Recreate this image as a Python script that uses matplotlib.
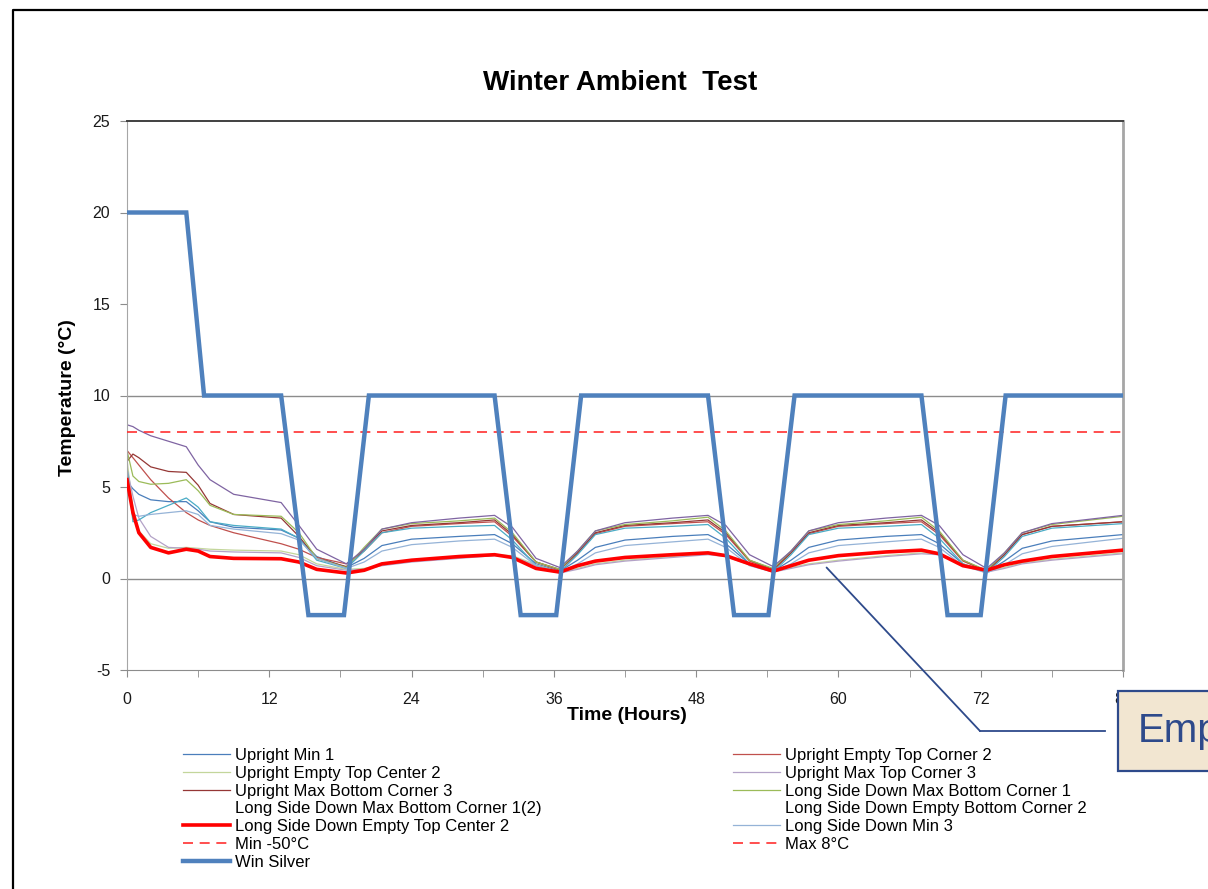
import matplotlib.pyplot as plt
from matplotlib.lines import Line2D
from matplotlib.patches import Rectangle, ConnectionPatch
from matplotlib.ticker import MultipleLocator

plt.rcParams['font.family'] = ['Liberation Sans', 'DejaVu Sans']
plt.rcParams['axes.unicode_minus'] = False

# -----------------------------
# Data (hours since start, temperature in deg C)
# -----------------------------
hours = [0, 0.5, 1, 2, 3.5, 5, 6, 7, 9, 13, 14.5, 16, 18.5, 20, 21.5, 24, 28, 31,
         32.5, 34.5, 36.5, 38, 39.5, 42, 46, 49, 50.5, 52.5, 54.5, 56, 57.5, 60,
         64, 67, 68.5, 70.5, 72.5, 74, 75.5, 78, 84]

upright_min_1 = [5.3, 4.9, 4.6, 4.3, 4.2, 4.2, 3.7, 3.1, 2.8, 2.65, 2.2, 1.2, 0.6, 1.1,
                 1.8, 2.15, 2.3, 2.4, 1.9, 0.8, 0.4, 1.0, 1.7, 2.1, 2.3, 2.4, 1.9, 0.8,
                 0.4, 1.0, 1.7, 2.1, 2.3, 2.4, 1.9, 0.8, 0.35, 0.95, 1.65, 2.05, 2.4]
upright_empty_top_corner_2 = [7.0, 6.6, 6.2, 5.4, 4.4, 3.6, 3.2, 2.9, 2.5, 1.9, 1.6, 1.15,
                              0.8, 1.5, 2.5, 2.85, 3.0, 3.1, 2.3, 0.9, 0.45, 1.4, 2.45,
                              2.85, 3.0, 3.1, 2.4, 0.95, 0.45, 1.4, 2.45, 2.85, 3.0, 3.1,
                              2.4, 0.95, 0.4, 1.3, 2.4, 2.85, 3.1]
upright_empty_top_center_2 = [6.5, 3.8, 2.6, 1.9, 1.65, 1.7, 1.65, 1.6, 1.55, 1.5, 1.3,
                              0.8, 0.5, 0.55, 0.75, 0.95, 1.15, 1.3, 1.25, 0.75, 0.35,
                              0.55, 0.8, 1.0, 1.2, 1.35, 1.25, 0.8, 0.4, 0.6, 0.8, 1.0,
                              1.25, 1.4, 1.35, 0.8, 0.4, 0.6, 0.85, 1.05, 1.4]
upright_max_top_corner_3 = [6.0, 4.5, 3.3, 2.3, 1.7, 1.65, 1.6, 1.5, 1.45, 1.4, 1.15,
                            0.7, 0.45, 0.5, 0.7, 0.9, 1.1, 1.25, 1.2, 0.7, 0.3, 0.5,
                            0.75, 0.95, 1.15, 1.3, 1.2, 0.75, 0.35, 0.55, 0.75, 0.95,
                            1.2, 1.35, 1.3, 0.75, 0.35, 0.55, 0.8, 1.0, 1.35]
upright_max_bottom_corner_3 = [6.4, 6.8, 6.6, 6.1, 5.85, 5.8, 5.1, 4.1, 3.5, 3.3, 2.3,
                               1.1, 0.65, 1.6, 2.6, 2.9, 3.05, 3.2, 2.4, 0.9, 0.5, 1.4,
                               2.5, 2.9, 3.05, 3.2, 2.5, 1.0, 0.5, 1.4, 2.5, 2.9, 3.05,
                               3.2, 2.5, 1.0, 0.4, 1.3, 2.4, 2.85, 3.1]
lsd_max_bottom_corner_1 = [7.0, 5.6, 5.3, 5.15, 5.2, 5.4, 4.8, 4.0, 3.5, 3.4, 2.5, 1.1,
                           0.6, 1.7, 2.7, 3.0, 3.15, 3.3, 2.5, 0.9, 0.5, 1.5, 2.6, 2.95,
                           3.15, 3.35, 2.6, 1.0, 0.55, 1.5, 2.6, 2.95, 3.15, 3.35, 2.6,
                           1.0, 0.45, 1.4, 2.5, 2.95, 3.4]
lsd_max_bottom_corner_1b = [8.4, 8.3, 8.1, 7.8, 7.5, 7.2, 6.2, 5.4, 4.6, 4.15, 2.9, 1.6,
                            0.8, 1.6, 2.7, 3.05, 3.3, 3.45, 2.8, 1.1, 0.6, 1.5, 2.6,
                            3.05, 3.3, 3.45, 2.9, 1.3, 0.65, 1.5, 2.6, 3.05, 3.3, 3.45,
                            2.9, 1.3, 0.55, 1.4, 2.5, 3.0, 3.45]
lsd_empty_bottom_corner_2 = [6.1, 3.1, 3.2, 3.6, 4.0, 4.4, 3.9, 3.1, 2.9, 2.7, 2.2, 1.0,
                             0.55, 1.5, 2.5, 2.75, 2.85, 2.9, 2.1, 0.7, 0.35, 1.3, 2.4,
                             2.75, 2.85, 2.95, 2.2, 0.8, 0.35, 1.3, 2.4, 2.75, 2.85,
                             2.95, 2.2, 0.8, 0.3, 1.2, 2.3, 2.75, 3.0]
lsd_empty_top_center_2 = [5.4, 3.6, 2.5, 1.7, 1.4, 1.6, 1.5, 1.2, 1.1, 1.08, 0.9, 0.5,
                          0.3, 0.45, 0.8, 1.0, 1.2, 1.3, 1.15, 0.55, 0.35, 0.7, 0.95,
                          1.15, 1.3, 1.4, 1.25, 0.8, 0.4, 0.7, 1.0, 1.25, 1.45, 1.55,
                          1.35, 0.7, 0.45, 0.75, 0.95, 1.2, 1.55]
lsd_min_3 = [5.6, 3.5, 3.4, 3.5, 3.6, 3.7, 3.5, 2.9, 2.7, 2.45, 2.1, 1.1, 0.55, 0.9, 1.5,
             1.85, 2.05, 2.15, 1.7, 0.7, 0.35, 0.8, 1.4, 1.8, 2.0, 2.15, 1.7, 0.7, 0.35,
             0.8, 1.4, 1.8, 2.0, 2.15, 1.7, 0.7, 0.3, 0.75, 1.35, 1.75, 2.2]

# chamber set point profile
silver_hours = [0, 5, 6.5, 13, 15.3, 18.3, 20.4, 31, 33.2, 36.2, 38.3, 49, 51.2, 54.1,
                56.3, 67, 69.2, 72, 74.1, 84]
silver_temp = [20, 20, 10, 10, -2, -2, 10, 10, -2, -2, 10, 10, -2, -2, 10, 10, -2, -2,
               10, 10]

min_limit = -50
max_limit = 8

callout_hour, callout_temp = 59.0, 0.6

# -----------------------------
# Figure / axes
# -----------------------------
W, H = 1208, 889
fig = plt.figure(figsize=(W / 100, H / 100), dpi=100)


def fx(px):
    return px / W


def fy(py):
    return 1 - py / H


ax = fig.add_axes([fx(127), fy(670), fx(1123) - fx(127), fy(121) - fy(670)])

sensors = [
    ("Upright Min 1", upright_min_1, "#4A7EBB", 0.9, True),
    ("Upright Empty Top Corner 2", upright_empty_top_corner_2, "#C0504D", 0.9, True),
    ("Upright Empty Top Center 2", upright_empty_top_center_2, "#C3D69B", 0.9, True),
    ("Upright Max Top Corner 3", upright_max_top_corner_3, "#B3A2C7", 0.9, True),
    ("Upright Max Bottom Corner 3", upright_max_bottom_corner_3, "#953735", 0.9, True),
    ("Long Side Down Max Bottom Corner 1", lsd_max_bottom_corner_1, "#9BBB59", 0.9, True),
    ("Long Side Down Max Bottom Corner 1(2)", lsd_max_bottom_corner_1b, "#7F64A2", 0.9, False),
    ("Long Side Down Empty Bottom Corner 2", lsd_empty_bottom_corner_2, "#4BACC6", 0.9, False),
    ("Long Side Down Min 3", lsd_min_3, "#95B3D7", 0.9, True),
]

handles = {}
for label, vals, color, lw, show_key in sensors:
    ax.plot(hours, vals, color=color, lw=lw, zorder=2)
    handles[label] = Line2D([], [], color=color if show_key else "none", lw=lw)

ax.plot(hours, lsd_empty_top_center_2, color="#FF0000", lw=2.6, zorder=3)
handles["Long Side Down Empty Top Center 2"] = Line2D([], [], color="#FF0000", lw=2.6)

dash_kw = dict(color="#FF3030", lw=1.2, dashes=(6, 4))
ax.axhline(min_limit, zorder=3, **dash_kw)
ax.axhline(max_limit, zorder=3, **dash_kw)
handles["Min -50°C"] = Line2D([], [], **dash_kw)
handles["Max 8°C"] = Line2D([], [], **dash_kw)

ax.plot(silver_hours, silver_temp, color="#4F81BD", lw=3.2, zorder=4,
        solid_joinstyle="miter")
handles["Win Silver"] = Line2D([], [], color="#4F81BD", lw=3.2)

# gridlines at 10 and 0 only
for g in (10, 0):
    ax.axhline(g, color="#8C8C8C", lw=1.0, zorder=1)

ax.set_xlim(0, 84)
ax.set_ylim(-5, 25)
ax.xaxis.set_major_locator(MultipleLocator(12))
ax.xaxis.set_minor_locator(MultipleLocator(6))
ax.yaxis.set_major_locator(MultipleLocator(5))
ax.tick_params(axis="both", which="both", direction="out", length=5,
               color="#8C8C8C", labelsize=11.5, labelcolor="#1A1A1A")
ax.tick_params(axis="x", pad=11)
ax.tick_params(axis="y", pad=7)

ax.spines["top"].set_color("#404040")
ax.spines["top"].set_linewidth(1.4)
ax.spines["right"].set_color("#A6A6A6")
ax.spines["right"].set_linewidth(2.0)
ax.spines["left"].set_color("#A6A6A6")
ax.spines["bottom"].set_color("#8C8C8C")

# -----------------------------
# Titles
# -----------------------------
fig.text(fx(620), fy(83), "Winter Ambient  Test", ha="center", va="center",
         fontsize=20, fontweight="bold")
fig.text(fx(627), fy(716), "Time (Hours)", ha="center", va="center",
         fontsize=14, fontweight="bold")
fig.text(fx(68), fy(398), "Temperature (°C)", ha="center", va="center",
         rotation=90, fontsize=14, fontweight="bold")

# -----------------------------
# Legend in two columns
# -----------------------------
left_keys = ["Upright Min 1", "Upright Empty Top Center 2", "Upright Max Bottom Corner 3",
             "Long Side Down Max Bottom Corner 1(2)", "Long Side Down Empty Top Center 2",
             "Min -50°C", "Win Silver"]
right_keys = ["Upright Empty Top Corner 2", "Upright Max Top Corner 3",
              "Long Side Down Max Bottom Corner 1", "Long Side Down Empty Bottom Corner 2",
              "Long Side Down Min 3", "Max 8°C"]

leg_kw = dict(loc="upper left", frameon=False, fontsize=12, borderpad=0,
              borderaxespad=0, handlelength=2.8, handletextpad=0.3,
              labelspacing=0.17, bbox_transform=fig.transFigure)
leg1 = fig.legend([handles[k] for k in left_keys], left_keys,
                  bbox_to_anchor=(fx(183), fy(748)), **leg_kw)
leg2 = fig.legend([handles[k] for k in right_keys], right_keys,
                  bbox_to_anchor=(fx(733), fy(748)), **leg_kw)

# -----------------------------
# Callout
# -----------------------------
callout_color = "#2E4A8B"
conn = ConnectionPatch(xyA=(callout_hour, callout_temp), coordsA="data", axesA=ax,
                       xyB=(fx(980), fy(731)), coordsB=fig.transFigure,
                       color=callout_color, lw=1.3, zorder=6)
fig.add_artist(conn)
fig.add_artist(Line2D([fx(980), fx(1105)], [fy(731), fy(731)],
                      transform=fig.transFigure, color=callout_color, lw=1.3))
fig.add_artist(Rectangle((fx(1118), fy(771)), fx(1300) - fx(1118), fy(691) - fy(771),
                         transform=fig.transFigure, facecolor="#F2E6D1",
                         edgecolor=callout_color, lw=1.6, zorder=7))
fig.text(fx(1138), fy(742), "Empty", ha="left", va="baseline", fontsize=29,
         color=callout_color, zorder=8)

# page border
fig.add_artist(Line2D([fx(13), fx(13), 1.0], [0.0, fy(10), fy(10)],
                      transform=fig.transFigure, color="black", lw=1.6))

fig.savefig("out.png", dpi=100)
